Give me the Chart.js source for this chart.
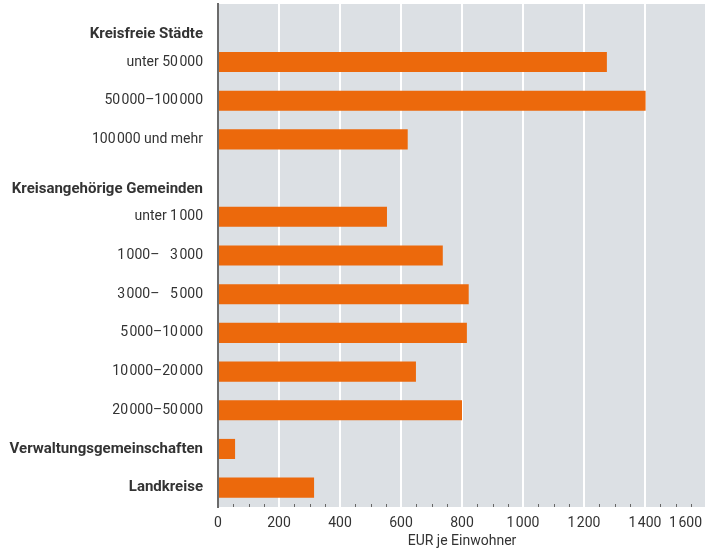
<!DOCTYPE html>
<html>
<head>
<meta charset="utf-8">
<script src="https://cdn.jsdelivr.net/npm/chart.js@4/dist/chart.umd.min.js"></script>
<style>
html,body{margin:0;padding:0;background:#fff;}
#wrap{width:707px;height:550px;}
</style>
</head>
<body>
<div id="wrap"><canvas id="c" width="707" height="550"></canvas></div>
<script>
const categories = ['Kreisfreie Städte','unter 50\u200A000','50\u200A000–100\u200A000','100\u200A000 und mehr','Kreisangehörige Gemeinden','unter 1\u200A000','1\u200A000–\u2007\u20093\u200A000','3\u200A000–\u2007\u20095\u200A000','5\u200A000–10\u200A000','10\u200A000–20\u200A000','20\u200A000–50\u200A000','Verwaltungsgemeinschaften','Landkreise'];
const values = [null,1275,1402,622,null,554,737,822,816,649,800,56,315];
const boldRows = [0,4,11,12];
const headerRows = [0,4];
const xTicks = [0,200,400,600,800,1000,1200,1400,1600];
const xTickLabels = ['0','200','400','600','800','1\u200A000','1\u200A200','1\u200A400','1\u200A600'];
const xTitle = 'EUR je Einwohner';
const minorStep = 50;

const FONT = 'Roboto';
const TEXT = '#333333';

const bgPlugin = {
  id:'bg',
  beforeDraw(chart){
    const {ctx, chartArea:a} = chart;
    ctx.save();
    ctx.fillStyle = '#dce0e4';
    ctx.fillRect(a.left, a.top, a.right-a.left, a.bottom-a.top);
    ctx.restore();
  },
  afterDatasetsDraw(chart){
    const {ctx, chartArea:a} = chart;
    const xs = chart.scales.x;
    ctx.save();
    ctx.strokeStyle = '#666666';
    ctx.lineWidth = 1;
    for(let v = minorStep; v < xs.max; v += minorStep){
      if (v % 200 === 0) continue;
      const px = Math.round(xs.getPixelForValue(v)) + 0.5;
      ctx.beginPath();
      ctx.moveTo(px, a.bottom);
      ctx.lineTo(px, a.bottom - 3);
      ctx.stroke();
    }
    ctx.restore();
  },
  afterDraw(chart){
    const {ctx, chartArea:a} = chart;
    const xs = chart.scales.x;
    ctx.save();
    ctx.fillStyle = TEXT;
    ctx.font = '14px ' + FONT;
    ctx.textBaseline = 'middle';
    ctx.textAlign = 'center';
    xTicks.forEach((v,i)=>{
      const px = xs.getPixelForValue(v);
      const w = ctx.measureText(xTickLabels[i]).width;
      let cx = px;
      if (cx + w/2 > chart.width - 5) cx = chart.width - 5 - w/2;
      ctx.fillText(xTickLabels[i], cx, a.bottom + 16);
    });
    ctx.fillText(xTitle, (a.left + a.right)/2, a.bottom + 34);
    ctx.restore();
  }
};

new Chart(document.getElementById('c'), {
  type:'bar',
  data:{
    labels: categories,
    datasets:[{
      data: values,
      backgroundColor:'#ec690c',
      borderWidth:0,
      categoryPercentage:1,
      barPercentage:0.52
    }]
  },
  plugins:[bgPlugin],
  options:{
    indexAxis:'y',
    responsive:false,
    animation:false,
    layout:{padding:{top:4,right:1,left:0,bottom:0}},
    plugins:{legend:{display:false},tooltip:{enabled:false}},
    scales:{
      x:{
        min:0,max:1600,
        afterBuildTicks(s){ s.ticks = xTicks.map(v=>({value:v})); },
        afterFit(s){ s.height = 43; s.paddingLeft = 0; s.paddingRight = 0; },
        ticks:{display:false},
        grid:{
          color:(c)=> (c.tick && c.tick.value === 0) ? 'rgba(0,0,0,0)' : '#ffffff',
          lineWidth:2,
          drawTicks:false
        },
        border:{display:false}
      },
      y:{
        z:1,
        afterFit(s){ s.width = 218; s.paddingTop = 0; s.paddingBottom = 0; },
        grid:{display:false, drawTicks:false},
        border:{display:true, color:'#6b6b6b', width:2},
        ticks:{
          padding:15,
          color:TEXT,
          autoSkip:false,
          callback:(v,i)=> headerRows.includes(i) ? ['', categories[i]] : categories[i],
          font:(c)=>{
            const i = c.index;
            const b = boldRows.includes(i);
            return {family:FONT, size: b ? 15 : 14, weight: b ? 'bold' : 'normal', lineHeight: headerRows.includes(i) ? 1.45 : 1.2};
          }
        }
      }
    }
  }
});
</script>
</body>
</html>
